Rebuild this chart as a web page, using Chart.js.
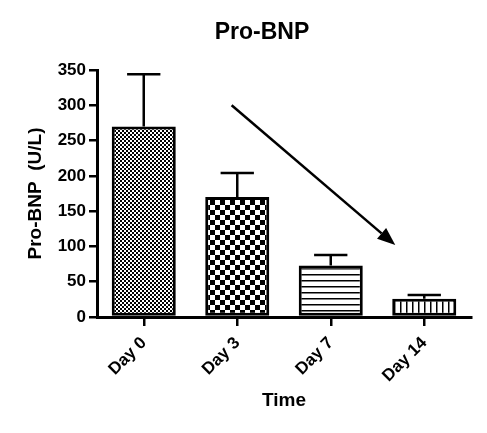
<!DOCTYPE html>
<html>
<head>
<meta charset="utf-8">
<script src="https://cdn.jsdelivr.net/npm/chart.js@4.4.1/dist/chart.umd.min.js"></script>
<style>
html, body { margin: 0; padding: 0; background: #fff; }
</style>
</head>
<body>
<canvas id="chart" width="487" height="433"></canvas>
<script>
// values
var days = ['Day 0', 'Day 3', 'Day 7', 'Day 14'];
var means = [270, 170, 73, 26];
var sem = [74, 34, 15, 5];
var yTicks = [0, 50, 100, 150, 200, 250, 300, 350];
// trend arrow, in data units: [category index, value]
var arrowFrom = [0.94, 300];
var arrowTo = [2.69, 102];

var FONT = 'Liberation Sans, Arial, Helvetica, sans-serif';

function makePattern(kind) {
    var c = document.createElement('canvas');
    var g = c.getContext('2d');
    var s;
    if (kind == 'fine' || kind == 'coarse') {
        s = kind == 'fine' ? 2 : 5;
        c.width = c.height = s * 2;
        g.fillStyle = '#fff';
        g.fillRect(0, 0, s * 2, s * 2);
        g.fillStyle = '#000';
        g.fillRect(0, 0, s, s);
        g.fillRect(s, s, s, s);
    } else if (kind == 'hlines') {
        c.width = 6; c.height = 6;
        g.fillStyle = '#fff';
        g.fillRect(0, 0, 6, 6);
        g.fillStyle = '#000';
        g.fillRect(0, 4, 6, 1.5);
    } else {
        c.width = 6; c.height = 6;
        g.fillStyle = '#fff';
        g.fillRect(0, 0, 6, 6);
        g.fillStyle = '#000';
        g.fillRect(4, 0, 1.5, 6);
    }
    return g.createPattern(c, 'repeat');
}

var fills = [makePattern('fine'), makePattern('coarse'), makePattern('hlines'), makePattern('vlines')];

var extras = {
    id: 'extras',
    afterDatasetsDraw: function(chart) {
        var ctx = chart.ctx;
        var xs = chart.scales.x, ys = chart.scales.y;
        var meta = chart.getDatasetMeta(0);
        ctx.save();
        ctx.strokeStyle = '#000';
        ctx.lineWidth = 2.5;
        // upper error bars
        for (var i = 0; i < means.length; i++) {
            var bx = meta.data[i].x;
            var yTop = ys.getPixelForValue(means[i]);
            var yErr = ys.getPixelForValue(means[i] + sem[i]);
            var half = meta.data[i].width * 0.26;
            ctx.beginPath();
            ctx.moveTo(bx, yTop);
            ctx.lineTo(bx, yErr);
            ctx.moveTo(bx - half, yErr);
            ctx.lineTo(bx + half, yErr);
            ctx.stroke();
        }
        // arrow
        var x1 = xs.getPixelForValue(arrowFrom[0]), y1 = ys.getPixelForValue(arrowFrom[1]);
        var x2 = xs.getPixelForValue(arrowTo[0]), y2 = ys.getPixelForValue(arrowTo[1]);
        var ang = Math.atan2(y2 - y1, x2 - x1);
        var hl = 18, hw = 7;
        var bxh = x2 - hl * Math.cos(ang), byh = y2 - hl * Math.sin(ang);
        ctx.beginPath();
        ctx.moveTo(x1, y1);
        ctx.lineTo(bxh, byh);
        ctx.stroke();
        ctx.fillStyle = '#000';
        ctx.beginPath();
        ctx.moveTo(x2, y2);
        ctx.lineTo(bxh + hw * Math.sin(ang), byh - hw * Math.cos(ang));
        ctx.lineTo(bxh - hw * Math.sin(ang), byh + hw * Math.cos(ang));
        ctx.closePath();
        ctx.fill();
        // title
        ctx.font = 'bold 23px ' + FONT;
        ctx.textAlign = 'center';
        ctx.textBaseline = 'middle';
        ctx.fillText('Pro-BNP', 262, 33);
        ctx.restore();
    }
};

var ctx = document.getElementById('chart').getContext('2d');
var chart = new Chart(ctx, {
    type: 'bar',
    data: {
        labels: days,
        datasets: [{
            data: means,
            backgroundColor: fills,
            borderColor: '#000',
            borderWidth: 3,
            borderSkipped: false,
            barPercentage: 1,
            categoryPercentage: 0.685
        }]
    },
    options: {
        responsive: false,
        animation: false,
        layout: { padding: { top: 70, right: 16, bottom: 0, left: 0 } },
        plugins: {
            legend: { display: false },
            tooltip: { enabled: false }
        },
        scales: {
            x: {
                afterFit: function(s) { s.height = 116; },
                grid: { display: true, offset: false, drawOnChartArea: false, drawTicks: true, tickLength: 9, color: '#000', lineWidth: 2.5 },
                border: { display: true, color: '#000', width: 3 },
                ticks: {
                    color: '#000', maxRotation: 45, minRotation: 45, padding: 7,
                    font: { family: FONT, size: 17, weight: 'bold' }
                },
                title: {
                    display: true, text: 'Time', color: '#000',
                    font: { family: FONT, size: 19, weight: 'bold' },
                    padding: { top: 0, bottom: 21 }
                }
            },
            y: {
                min: 0, max: 350,
                afterFit: function(s) { s.width = 97; },
                afterBuildTicks: function(s) { s.ticks = yTicks.map(function(v) { return { value: v }; }); },
                grid: { display: true, drawOnChartArea: false, drawTicks: true, tickLength: 8, color: '#000', lineWidth: 2.5 },
                border: { display: true, color: '#000', width: 3 },
                ticks: {
                    color: '#000', padding: 3,
                    font: { family: FONT, size: 17, weight: 'bold' }
                },
                title: {
                    display: true, text: 'Pro-BNP  (U/L)', color: '#000',
                    font: { family: FONT, size: 19, weight: 'bold' },
                    padding: { top: 24, bottom: 0 }
                }
            }
        }
    },
    plugins: [extras]
});
</script>
</body>
</html>
